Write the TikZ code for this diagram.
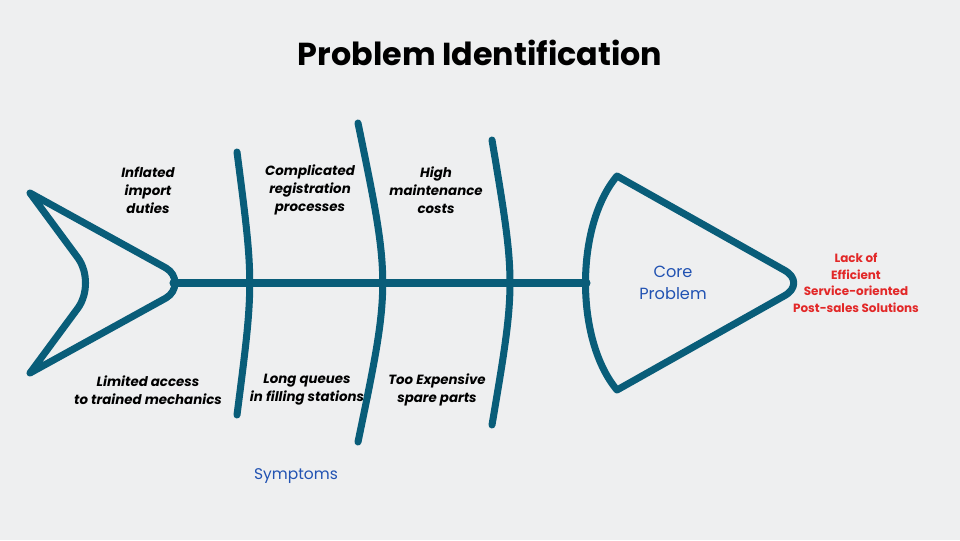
\documentclass[tikz,border=0pt]{standalone}
\usepackage{fontspec}
\setmainfont{Poppins}
\definecolor{paper}{RGB}{238,239,240}
\definecolor{bone}{RGB}{9,93,121}
\definecolor{coreblue}{RGB}{33,82,178}
\definecolor{effectred}{RGB}{226,40,40}
\begin{document}
\begin{tikzpicture}[x=0.025cm,y=-0.025cm,
			fish/.style={draw=bone,line width=5pt,line join=round,line cap=round},
			cause/.style={align=center,font=\fontsize{9.5}{12.7}\selectfont\bfseries\itshape,inner sep=0}]
			\fill[paper] (0,0) rectangle (960,540);
			\useasboundingbox (0,0) rectangle (960,540);
			\node[font=\fontsize{22.6}{26}\selectfont\bfseries] (title) at (480,53) {Problem Identification};
			\coordinate (tail) at (173,283);
			\coordinate (head) at (587,283);
			\draw[fish] (30,193) -- (166,268) .. controls (178,275) and (178,291) .. (166,298)
				-- (30,373) -- (78,308) .. controls (88,294) and (88,272) .. (78,258) -- cycle;
			\draw[fish] (617,176) -- (784,270) .. controls (797,277) and (797,289) .. (784,296)
				-- (617,390) .. controls (575,340) and (575,226) .. (617,176);
			\draw[fish] (tail) -- (head);
			\draw[fish] (237,152) .. controls (254,283) .. (237,415);
			\draw[fish] (358,123) .. controls (391,283) .. (358,442);
			\draw[fish] (492,140) .. controls (516,283) .. (492,425);
			\node[cause] (duties) at (148,190) {Inflated\\import\\duties};
			\node[cause] (registration) at (310,190) {Complicated\\registration\\processes};
			\node[cause] (maintenance) at (436,190) {High\\maintenance\\costs};
			\node[cause] (mechanics) at (148,390) {Limited access\\to trained mechanics};
			\node[cause] (queues) at (307,390) {Long queues\\in filling stations};
			\node[cause] (parts) at (437,390) {Too Expensive\\spare parts};
			\node[align=center,text=coreblue,font=\fontsize{11.5}{15.6}\selectfont] (core) at (673,283) {Core\\Problem};
			\node[align=center,text=effectred,font=\fontsize{8.5}{11.7}\selectfont\bfseries] (effect) at (856,283) {Lack of\\Efficient\\Service-oriented\\Post-sales Solutions};
			\node[text=coreblue,font=\fontsize{11}{13}\selectfont] (symptoms) at (296,476) {Symptoms};
		\end{tikzpicture}
\end{document}
